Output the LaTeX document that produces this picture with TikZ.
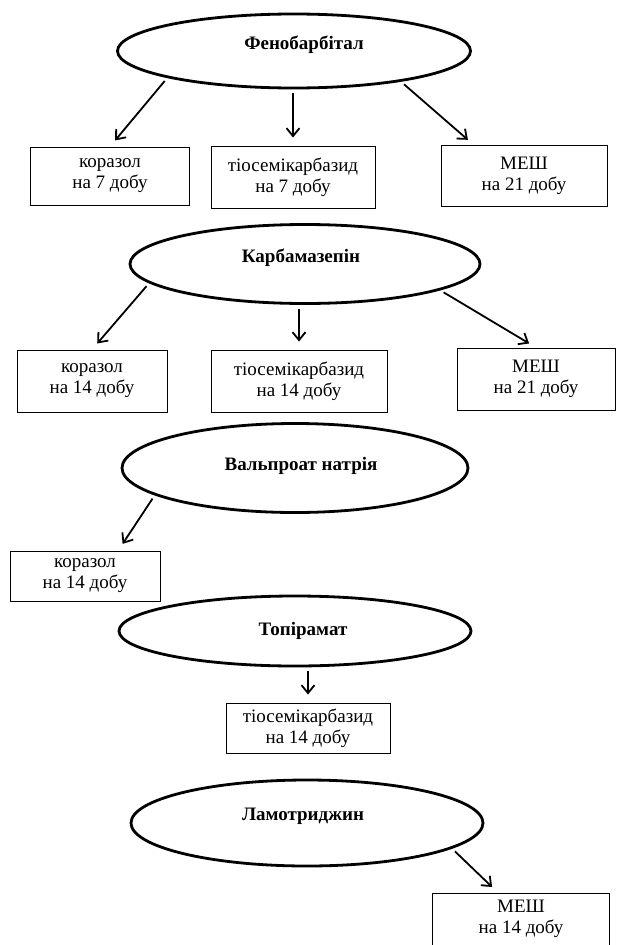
\documentclass[tikz,border=0pt]{standalone}
\usepackage{fontspec}
\setmainfont{Liberation Serif}
\usepackage{xcolor}
\usetikzlibrary{arrows.meta,calc,shapes.geometric}
\definecolor{ink}{HTML}{000000}
\tikzset{
  drug/.style={ellipse, draw=ink, line width=2.8pt, inner sep=0pt},
  drugname/.style={font=\bfseries\fontsize{19}{22}\selectfont, inner sep=0pt, text=ink},
  testbox/.style={draw=ink, line width=0.9pt, align=center, inner sep=0pt,
    font=\fontsize{19}{21}\selectfont, text=ink},
  arr/.style={-{Straight Barb[length=8pt,width=13pt,line width=1.8pt]}, line width=1.8pt, draw=ink,
    shorten <=4pt, shorten >=8pt}
}
\begin{document}
\begin{tikzpicture}[x=1pt,y=-1pt]
  \useasboundingbox (0,0) rectangle (617,945);
  % Фенобарбітал
  \node[drug, minimum width=353pt, minimum height=74pt] (fen) at (294,51) {};
  \node[drugname] (fenT) at (304,45) {Фенобарбітал};
  \node[testbox, minimum width=159pt, minimum height=58pt] (fenA) at (110,176) {коразол\\на 7 добу};
  \node[testbox, minimum width=164pt, minimum height=62pt] (fenB) at (293,177) {тіосемікарбазид\\на 7 добу};
  \node[testbox, minimum width=166pt, minimum height=61pt] (fenC) at (524,176) {МЕШ\\на 21 добу};
  \draw[arr] (fen.192) -- (fenA.north);
  \draw[arr] (fen.south -| fenB.north) -- (fenB.north);
  \draw[arr] (fen.344) -- ($(fenC.north west)!0.2!(fenC.north east)$);
  % Карбамазепін
  \node[drug, minimum width=350pt, minimum height=79pt] (carb) at (305,264) {};
  \node[drugname] (carbT) at (301,258) {Карбамазепін};
  \node[testbox, minimum width=150pt, minimum height=62pt] (carbA) at (92,381) {коразол\\на 14 добу};
  \node[testbox, minimum width=176pt, minimum height=62pt] (carbB) at (299,381) {тіосемікарбазид\\на 14 добу};
  \node[testbox, minimum width=158pt, minimum height=62pt] (carbC) at (536,379) {МЕШ\\на 21 добу};
  \draw[arr] (carb.187) -- (carbA.north);
  \draw[arr] (carb.south -| carbB.north) -- (carbB.north);
  \draw[arr] (carb.349) -- (carbC.north);
  % Вальпроат натрія
  \node[drug, minimum width=346pt, minimum height=89pt] (valp) at (295,468) {};
  \node[drugname] (valpT) at (301,466) {Вальпроат натрія};
  \node[testbox, minimum width=150pt, minimum height=50pt] (valpA) at (85,576) {коразол\\на 14 добу};
  \draw[arr] (valp.191) -- ($(valpA.north west)!0.72!(valpA.north east)$);
  % Топірамат
  \node[drug, minimum width=352pt, minimum height=70pt] (topi) at (295,631) {};
  \node[drugname] (topiT) at (303,631) {Топірамат};
  \node[testbox, minimum width=164pt, minimum height=50pt] (topiB) at (308,728) {тіосемікарбазид\\на 14 добу};
  \draw[arr] (topi.south -| topiB.north) -- (topiB.north);
  % Ламотриджин
  \node[drug, minimum width=352pt, minimum height=86pt] (lamo) at (307,823) {};
  \node[drugname] (lamoT) at (303,816) {Ламотриджин};
  \node[testbox, minimum width=177pt, minimum height=52pt] (lamoC) at (521,919) {МЕШ\\на 14 добу};
  \draw[arr] (lamo.350) -- ($(lamoC.north west)!0.37!(lamoC.north east)$);
\end{tikzpicture}
\end{document}
